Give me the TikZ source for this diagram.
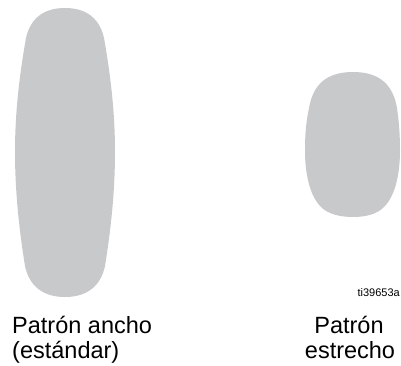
\documentclass[tikz,border=0pt]{standalone}
\usepackage{fontspec}
\setmainfont{Liberation Sans}
\definecolor{patgray}{RGB}{200,201,203}
\begin{document}
\begin{tikzpicture}[x=1pt,y=-1pt,
  blob/.style={fill=patgray,draw=none},
  lbl/.style={inner sep=0pt,font=\fontsize{23.5}{25}\selectfont},
  tag/.style={inner sep=0pt,font=\fontsize{11}{13}\selectfont}]
\useasboundingbox (0,0) rectangle (401,365);
% wide pattern
\fill[blob] (65,8) .. controls (42,8) and (30,20) .. (26,38)
  .. controls (20,72) and (15,110) .. (15,152)
  .. controls (15,195) and (20,235) .. (25,266)
  .. controls (29,285) and (42,297) .. (65,297)
  .. controls (88,297) and (101,285) .. (105,266)
  .. controls (110,235) and (115,195) .. (115,152)
  .. controls (115,110) and (110,72) .. (104,38)
  .. controls (100,20) and (88,8) .. (65,8) -- cycle;
% narrow pattern
\fill[blob] (353,72) .. controls (326,72) and (313,85) .. (309,108)
  .. controls (306,122) and (305,135) .. (305,150)
  .. controls (305,175) and (310,195) .. (320,206)
  .. controls (327,214) and (340,217) .. (353,217)
  .. controls (366,217) and (378,214) .. (385,206)
  .. controls (395,195) and (400,175) .. (400,150)
  .. controls (400,135) and (399,122) .. (397,108)
  .. controls (393,85) and (380,72) .. (353,72) -- cycle;
\node[tag,anchor=base east] (tag) at (400,296) {ti39653a};
\node[lbl,anchor=base west] (wide1) at (12,333) {Patrón ancho};
\node[lbl,anchor=base west] (wide2) at (12,358) {(estándar)};
\node[lbl,anchor=base] (nar1) at (349,333) {Patrón};
\node[lbl,anchor=base] (nar2) at (350,358) {estrecho};
\end{tikzpicture}
\end{document}
